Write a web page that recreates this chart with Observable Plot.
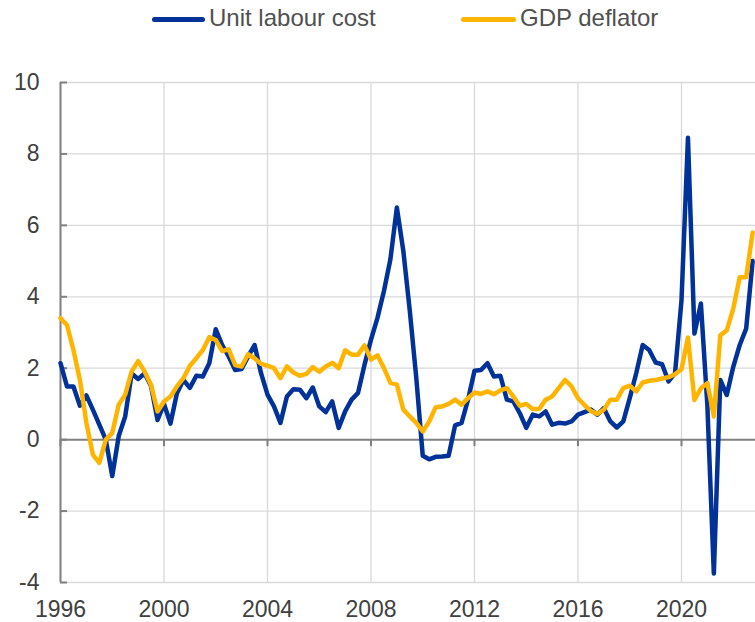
<!DOCTYPE html>
<html>
<head>
<meta charset="utf-8">
<script src="https://cdn.jsdelivr.net/npm/d3@7"></script>
<script src="https://cdn.jsdelivr.net/npm/@observablehq/plot@0.6"></script>
<style>
  html, body { margin: 0; padding: 0; background: #fff; }
  #wrap { width: 755px; height: 622px; position: relative; overflow: hidden; }
  #legend { position: relative; width: 755px; height: 40px; font-family: "Liberation Sans", Arial, sans-serif; font-size: 24px; color: #505050; }
  .sw { position: absolute; height: 5px; border-radius: 3px; top: 17px; }
  .lt { position: absolute; top: 5px; line-height: 26px; white-space: nowrap; }
</style>
</head>
<body>
<div id="wrap">
  <div id="legend"></div>
  <div id="chart"></div>
</div>
<script>
const seriesNames = ["Unit labour cost", "GDP deflator"];
const seriesColors = ["#003299", "#ffb400"];
const startYear = 1996;
const xTicks = [1996, 2000, 2004, 2008, 2012, 2016, 2020];
const yTicks = [-4, -2, 0, 2, 4, 6, 8, 10];

// Quarterly, 1996 Q1 onwards (annual % changes)
const unitLabourCost = [
  2.14, 1.49, 1.49, 0.95, 1.24, 0.84, 0.42, 0.0, -1.02, 0.1,
  0.65, 1.85, 1.7, 1.85, 1.5, 0.55, 1.0, 0.45, 1.3, 1.67,
  1.45, 1.79, 1.77, 2.14, 3.09, 2.65, 2.33, 1.95, 1.98, 2.33,
  2.65, 1.86, 1.26, 0.93, 0.47, 1.21, 1.41, 1.40, 1.16, 1.46,
  0.93, 0.77, 1.07, 0.33, 0.79, 1.12, 1.31, 2.1, 2.8, 3.41,
  4.16, 5.05, 6.5, 5.28, 3.6, 1.73, -0.45, -0.55, -0.48, -0.47,
  -0.45, 0.4, 0.47, 1.12, 1.93, 1.95, 2.14, 1.77, 1.79, 1.12,
  1.07, 0.74, 0.33, 0.70, 0.65, 0.79, 0.42, 0.47, 0.45, 0.51,
  0.70, 0.77, 0.84, 0.70, 0.88, 0.51, 0.34, 0.51, 1.16, 1.86,
  2.65, 2.51, 2.16, 2.11, 1.63, 1.86, 3.9, 8.45, 2.97, 3.81,
  0.95, -3.75, 1.67, 1.25, 2.04, 2.65, 3.11, 5.0
];
const gdpDeflator = [
  3.40, 3.21, 2.51, 1.67, 0.47, -0.42, -0.65, 0.0, 0.19, 0.98,
  1.26, 1.91, 2.2, 1.91, 1.53, 0.79, 1.07, 1.21, 1.49, 1.72,
  2.07, 2.28, 2.51, 2.87, 2.79, 2.48, 2.53, 2.09, 2.05, 2.39,
  2.28, 2.12, 2.07, 2.0, 1.72, 2.05, 1.88, 1.79, 1.84, 2.03,
  1.9, 2.05, 2.15, 2.0, 2.5, 2.38, 2.38, 2.64, 2.24, 2.36,
  2.0, 1.59, 1.54, 0.84, 0.65, 0.47, 0.23, 0.51, 0.91, 0.93,
  1.0, 1.12, 0.98, 1.16, 1.32, 1.28, 1.35, 1.27, 1.38, 1.44,
  1.21, 0.95, 1.0, 0.86, 0.86, 1.12, 1.21, 1.44, 1.67, 1.49,
  1.16, 0.97, 0.8, 0.72, 0.84, 1.12, 1.12, 1.44, 1.51, 1.35,
  1.6, 1.65, 1.67, 1.71, 1.75, 1.83, 1.97, 2.86, 1.11, 1.44,
  1.58, 0.65, 2.92, 3.06, 3.67, 4.55, 4.55, 5.8
];

const rows = [];
[unitLabourCost, gdpDeflator].forEach((arr, s) => {
  arr.forEach((v, i) => rows.push({t: startYear + i / 4, v, s: seriesNames[s]}));
});

// legend
const legend = document.getElementById("legend");
const legendPos = [[152, 209], [461, 520]];
seriesNames.forEach((name, k) => {
  const sw = document.createElement("div");
  sw.className = "sw";
  sw.style.left = legendPos[k][0] + "px";
  sw.style.width = (legendPos[k][1] - legendPos[k][0] - 4) + "px";
  sw.style.background = seriesColors[k];
  legend.appendChild(sw);
  const t = document.createElement("div");
  t.className = "lt";
  t.style.left = legendPos[k][1] + "px";
  t.textContent = name;
  legend.appendChild(t);
});

const axisGray = "#808080";
const gridGray = "#d9d9d9";

const chart = Plot.plot({
  width: 755,
  height: 582,
  marginTop: 42,
  marginBottom: 40,
  marginLeft: 60,
  marginRight: 0,
  x: {domain: [1996, 2022.86], label: null},
  y: {domain: [-4, 10], label: null},
  color: {domain: seriesNames, range: seriesColors},
  style: {fontFamily: "Liberation Sans, Arial, sans-serif", fontSize: "23px", color: "#404040", background: "#fff", overflow: "visible"},
  marks: [
    Plot.gridX(xTicks, {stroke: gridGray, strokeOpacity: 1, strokeWidth: 1.3}),
    Plot.gridY(yTicks.filter(d => d !== 0), {stroke: gridGray, strokeOpacity: 1, strokeWidth: 1.3}),
    Plot.axisX(xTicks, {anchor: "bottom", tickSize: 0, tickPadding: 18, tickFormat: d => String(d), label: null}),
    Plot.axisY(yTicks, {anchor: "left", tickSize: 0, tickPadding: 21, tickFormat: d => String(d), label: null}),
    Plot.ruleY([0], {stroke: axisGray, strokeWidth: 2}),
    Plot.ruleX([1996], {y1: -4, y2: 10, stroke: axisGray, strokeWidth: 2}),
    Plot.ruleX(xTicks, {y1: 0, y2: 0, insetBottom: -7, stroke: axisGray, strokeWidth: 2}),
    Plot.ruleY(yTicks, {x1: 1996, x2: 1996, insetRight: -7, stroke: axisGray, strokeWidth: 2}),
    Plot.line(rows, {x: "t", y: "v", z: "s", stroke: "s", strokeWidth: 4.5, strokeLinejoin: "round", strokeLinecap: "round"})
  ]
});
document.getElementById("chart").appendChild(chart);
</script>
</body>
</html>
